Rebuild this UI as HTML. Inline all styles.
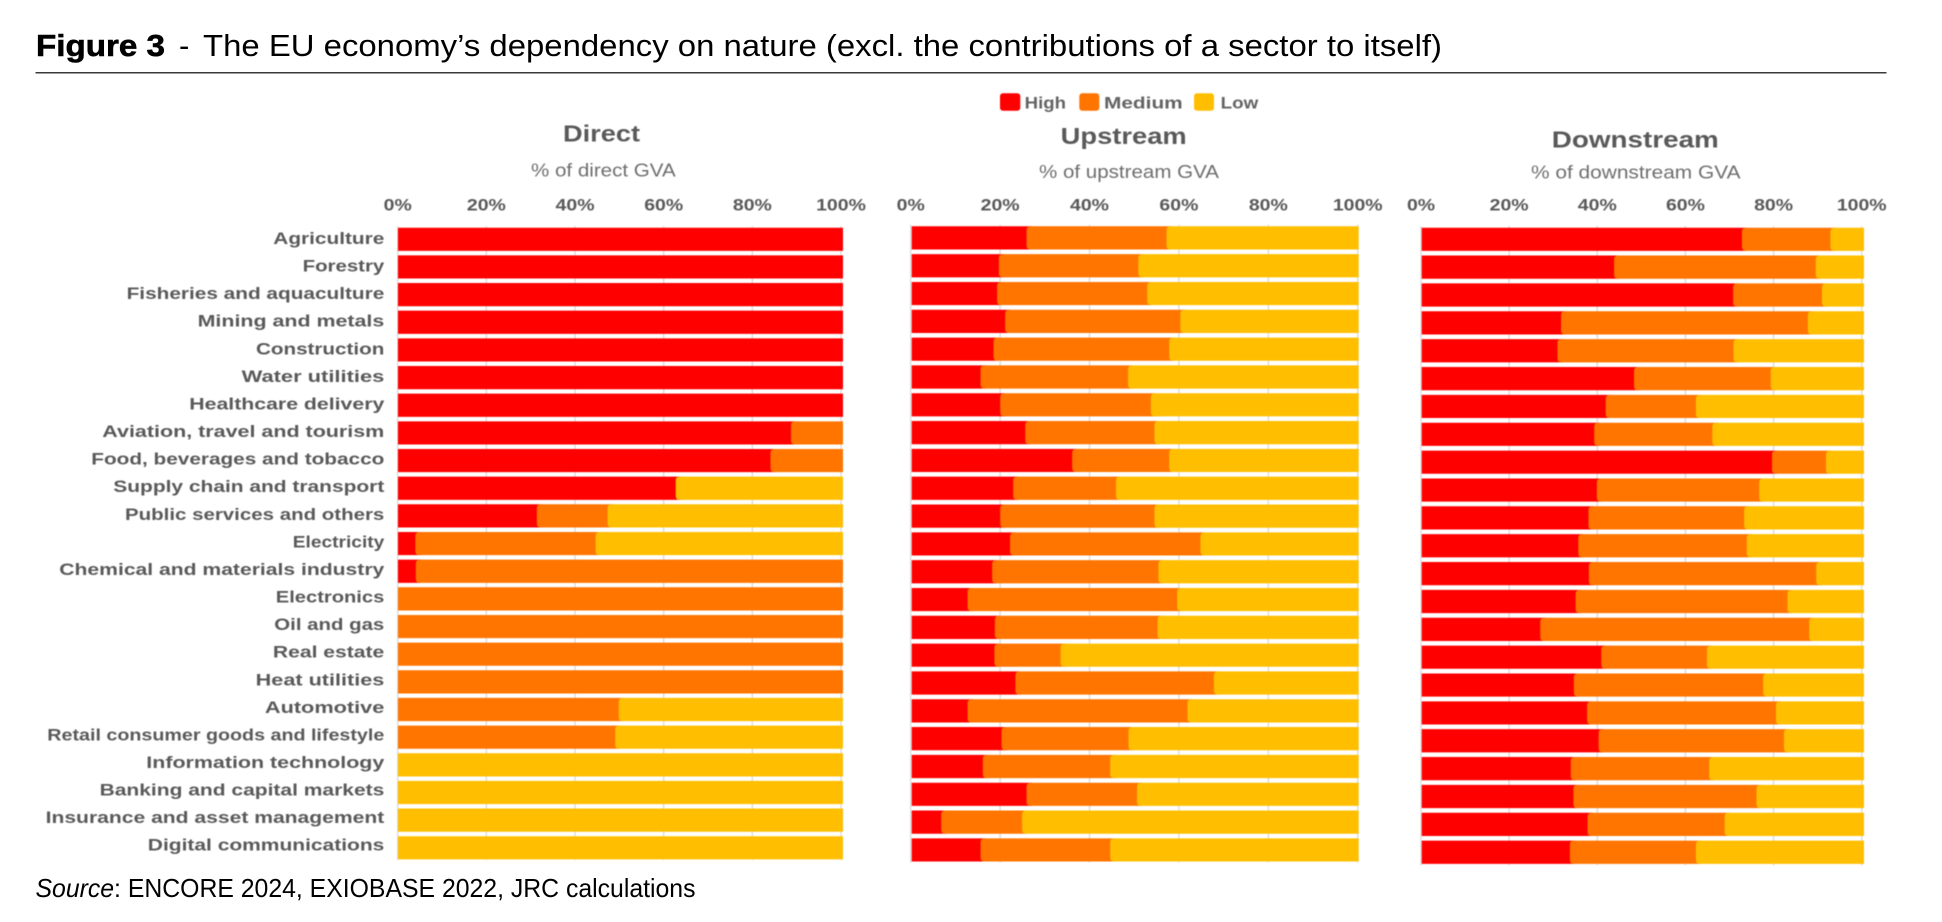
<!DOCTYPE html>
<html lang="en">
<head>
<meta charset="utf-8">
<title>The EU economy's dependency on nature</title>
<style>
html,body{margin:0;padding:0;background:#fff;width:1942px;height:922px;overflow:hidden}
svg{display:block;font-family:"Liberation Sans",Arial,sans-serif}
.soft{filter:blur(.45px)}
</style>
</head>
<body>
<svg id="figure" xmlns="http://www.w3.org/2000/svg" width="1942" height="922" viewBox="0 0 1942 922">
  <rect x="0" y="0" width="1942" height="922" fill="#fff"/>
  <text x="36" y="56" font-size="31" font-weight="bold" fill="#000" stroke="#000" stroke-width=".6" textLength="129" lengthAdjust="spacingAndGlyphs">Figure 3</text>
  <text x="179" y="56" font-size="31" fill="#000">-</text>
  <text x="203" y="56" font-size="31" fill="#000" textLength="1239" lengthAdjust="spacingAndGlyphs">The EU economy’s dependency on nature (excl. the contributions of a sector to itself)</text>
  <rect x="35.5" y="72" width="1851" height="1.5" fill="#3a3a3a"/>

  <g class="soft" font-size="17" font-weight="bold" fill="#636363">
    <rect x="1000" y="93.3" width="20.3" height="17.4" rx="3" fill="#ff0000"/>
    <text x="1024.7" y="108.7" textLength="41.3" lengthAdjust="spacingAndGlyphs">High</text>
    <rect x="1079.3" y="93.3" width="20" height="17.4" rx="3" fill="#ff7500"/>
    <text x="1104" y="108.7" textLength="78.7" lengthAdjust="spacingAndGlyphs">Medium</text>
    <rect x="1194" y="93.3" width="20" height="17.4" rx="3" fill="#ffbf00"/>
    <text x="1220.7" y="108.7" textLength="37.6" lengthAdjust="spacingAndGlyphs">Low</text>
  </g>

  <g class="soft">
    <text x="563" y="141.5" font-size="23" font-weight="bold" fill="#595959" textLength="77" lengthAdjust="spacingAndGlyphs">Direct</text>
    <text x="531" y="176.7" font-size="18" fill="#6e6e6e" textLength="144.7" lengthAdjust="spacingAndGlyphs">% of direct GVA</text>
    <text x="1060.7" y="144" font-size="23" font-weight="bold" fill="#595959" textLength="126" lengthAdjust="spacingAndGlyphs">Upstream</text>
    <text x="1039" y="178" font-size="18" fill="#6e6e6e" textLength="180" lengthAdjust="spacingAndGlyphs">% of upstream GVA</text>
    <text x="1551.8" y="147.3" font-size="23" font-weight="bold" fill="#595959" textLength="167" lengthAdjust="spacingAndGlyphs">Downstream</text>
    <text x="1531" y="178.7" font-size="18" fill="#6e6e6e" textLength="209.5" lengthAdjust="spacingAndGlyphs">% of downstream GVA</text>
  </g>

  <g class="soft" id="category-labels" font-size="16.8" font-weight="bold" fill="#595959" text-anchor="end">
    <text x="384.3" y="244" textLength="111" lengthAdjust="spacingAndGlyphs">Agriculture</text>
    <text x="384.3" y="271.6" textLength="81.7" lengthAdjust="spacingAndGlyphs">Forestry</text>
    <text x="384.3" y="299.2" textLength="257.7" lengthAdjust="spacingAndGlyphs">Fisheries and aquaculture</text>
    <text x="384.3" y="326.7" textLength="186.7" lengthAdjust="spacingAndGlyphs">Mining and metals</text>
    <text x="384.3" y="354.3" textLength="128.3" lengthAdjust="spacingAndGlyphs">Construction</text>
    <text x="384.3" y="381.9" textLength="142.7" lengthAdjust="spacingAndGlyphs">Water utilities</text>
    <text x="384.3" y="409.5" textLength="195" lengthAdjust="spacingAndGlyphs">Healthcare delivery</text>
    <text x="384.3" y="437.1" textLength="282" lengthAdjust="spacingAndGlyphs">Aviation, travel and tourism</text>
    <text x="384.3" y="464.6" textLength="293" lengthAdjust="spacingAndGlyphs">Food, beverages and tobacco</text>
    <text x="384.3" y="492.2" textLength="271" lengthAdjust="spacingAndGlyphs">Supply chain and transport</text>
    <text x="384.3" y="519.8" textLength="259.3" lengthAdjust="spacingAndGlyphs">Public services and others</text>
    <text x="384.3" y="547.4" textLength="91.5" lengthAdjust="spacingAndGlyphs">Electricity</text>
    <text x="384.3" y="575" textLength="325" lengthAdjust="spacingAndGlyphs">Chemical and materials industry</text>
    <text x="384.3" y="602.5" textLength="108.5" lengthAdjust="spacingAndGlyphs">Electronics</text>
    <text x="384.3" y="630.1" textLength="110" lengthAdjust="spacingAndGlyphs">Oil and gas</text>
    <text x="384.3" y="657.7" textLength="111.4" lengthAdjust="spacingAndGlyphs">Real estate</text>
    <text x="384.3" y="685.3" textLength="128.6" lengthAdjust="spacingAndGlyphs">Heat utilities</text>
    <text x="384.3" y="712.9" textLength="119.4" lengthAdjust="spacingAndGlyphs">Automotive</text>
    <text x="384.3" y="740.4" textLength="337" lengthAdjust="spacingAndGlyphs">Retail consumer goods and lifestyle</text>
    <text x="384.3" y="768" textLength="238" lengthAdjust="spacingAndGlyphs">Information technology</text>
    <text x="384.3" y="795.6" textLength="284.7" lengthAdjust="spacingAndGlyphs">Banking and capital markets</text>
    <text x="384.3" y="823.2" textLength="338.7" lengthAdjust="spacingAndGlyphs">Insurance and asset management</text>
    <text x="384.3" y="850.7" textLength="236.5" lengthAdjust="spacingAndGlyphs">Digital communications</text>
  </g>
  <g class="soft" id="panel-direct"></g>
  <g class="soft" id="panel-upstream"></g>
  <g class="soft" id="panel-downstream"></g>

  <text x="35.5" y="897" font-size="26" fill="#000" textLength="660" lengthAdjust="spacingAndGlyphs"><tspan font-style="italic">Source</tspan>: ENCORE 2024, EXIOBASE 2022, JRC calculations</text>
</svg>

<script>
const categories = ["Agriculture","Forestry","Fisheries and aquaculture","Mining and metals","Construction","Water utilities","Healthcare delivery","Aviation, travel and tourism","Food, beverages and tobacco","Supply chain and transport","Public services and others","Electricity","Chemical and materials industry","Electronics","Oil and gas","Real estate","Heat utilities","Automotive","Retail consumer goods and lifestyle","Information technology","Banking and capital markets","Insurance and asset management","Digital communications"];
const tickValues = [0,20,40,60,80,100];
const tickLabels = ["0%","20%","40%","60%","80%","100%"];

const directHigh = [100,100,100,100,100,100,100,88.3,83.7,62.4,31.2,3.9,4.0,0,0,0,0,0,0,0,0,0,0];
const directMedium = [0,0,0,0,0,0,0,11.7,16.3,0,15.9,40.5,96.0,100,100,100,100,49.6,48.8,0,0,0,0];
const directLow = [0,0,0,0,0,0,0,0,0,37.6,52.9,55.6,0,0,0,0,0,50.4,51.2,100,100,100,100];

const upstreamHigh = [25.7,19.5,19.1,20.9,18.3,15.4,19.8,25.4,35.9,22.7,19.8,22.0,18.0,12.5,18.6,18.5,23.2,12.5,20.1,15.9,25.7,6.6,15.4];
const upstreamMedium = [31.3,31.2,33.6,39.2,39.3,33.0,33.7,28.9,21.7,23.0,34.5,42.6,37.2,46.9,36.4,14.8,44.4,49.2,28.4,28.5,24.7,18.1,29.0];
const upstreamLow = [43.0,49.3,47.3,39.9,42.4,51.6,46.5,45.7,42.4,54.3,45.7,35.4,44.8,40.6,45.0,66.7,32.4,38.3,51.5,55.6,49.6,75.3,55.6];

const downstreamHigh = [72.4,43.5,70.4,31.5,30.7,48.0,41.6,39.0,79.2,39.6,37.7,35.4,37.8,34.8,26.8,40.6,34.4,37.4,40.0,33.7,34.3,37.5,33.5];
const downstreamMedium = [20.0,45.6,20.1,55.8,39.8,30.9,20.4,26.7,12.2,36.7,35.2,38.1,51.4,47.9,60.8,23.9,42.8,42.7,41.9,31.3,41.4,31.0,28.5];
const downstreamLow = [7.6,10.9,9.5,12.7,29.5,21.1,38.0,34.3,8.6,23.7,27.1,26.5,10.8,17.3,12.4,35.5,22.8,19.9,18.1,35.0,24.3,31.5,38.0];

const SVG_NS = "http://www.w3.org/2000/svg";
const SERIES_COLORS = ["#ff0000","#ff7500","#ffbf00"];
const SERIES_NAMES = ["high","medium","low"];
const TEXT_STRETCH = 1.18;
const CORNER = 4;
const BAR_HEIGHT = 23.2;

function makeSvg(tag, parent) {
  const el = document.createElementNS(SVG_NS, tag);
  parent.appendChild(el);
  return el;
}

function barPath(xs, xe, y, h, rounded) {
  const r = rounded ? Math.min(CORNER, (xe - xs) / 2) : 0;
  return "M" + (xs + r) + " " + y + "H" + xe + "V" + (y + h) + "H" + (xs + r) +
    (r ? "Q" + xs + " " + (y + h) + " " + xs + " " + (y + h - r) + "V" + (y + r) + "Q" + xs + " " + y + " " + (xs + r) + " " + y : "V" + y) + "Z";
}

function drawPanel(cfg) {
  const root = document.getElementById(cfg.id);
  const gridX = function (v) { return cfg.gridStart + v / 100 * cfg.gridWidth; };
  const barX = function (v) { return cfg.barStart + v / 100 * cfg.barWidth; };
  const rowY = function (i) { return cfg.top + i * cfg.pitch; };

  tickValues.forEach(function (v, k) {
    const line = makeSvg("line", root);
    
    
    line.setAttribute("x1", gridX(v));
    line.setAttribute("x2", gridX(v));
    line.setAttribute("y1", cfg.top - 1.5);
    line.setAttribute("y2", cfg.axisBottom);
    line.setAttribute("stroke", "#d9d9d9");
    line.setAttribute("stroke-width", "1.3");
    const label = makeSvg("text", root);
    
    
    label.setAttribute("transform", "translate(" + gridX(v) + ",210.5) scale(" + TEXT_STRETCH + ",1)");
    label.setAttribute("text-anchor", "middle");
    label.setAttribute("font-size", "16.5");
    label.setAttribute("font-weight", "bold");
    label.setAttribute("fill", "#595959");
    label.textContent = tickLabels[k];
  });

  categories.forEach(function (name, i) {
    const vals = [cfg.high[i], cfg.medium[i], cfg.low[i]];
    const total = vals[0] + vals[1] + vals[2];
    let cum = 0;
    let drawn = 0;
    vals.forEach(function (v, s) {
      if (v <= 0) return;
      const start = cum;
      cum += v;
      const isLast = cum >= total - 0.001;
      const xs = barX(start);
      const xe = isLast ? barX(cum) : barX(cum) + CORNER + 1;
      const seg = makeSvg("path", root);
      
      
      seg.setAttribute("data-series", SERIES_NAMES[s]);
      seg.setAttribute("data-category", name);
      seg.setAttribute("d", barPath(xs, xe, rowY(i), BAR_HEIGHT, drawn > 0));
      seg.setAttribute("fill", SERIES_COLORS[s]);
      drawn++;
    });
  });
}

drawPanel({id:"panel-direct", high:directHigh, medium:directMedium, low:directLow,
  gridStart:397.7, gridWidth:443.3, barStart:398, barWidth:445, top:227.7, pitch:27.66, axisBottom:860});
drawPanel({id:"panel-upstream", high:upstreamHigh, medium:upstreamMedium, low:upstreamLow,
  gridStart:910.7, gridWidth:447, barStart:911.7, barWidth:447, top:226.3, pitch:27.82, axisBottom:862.5});
drawPanel({id:"panel-downstream", high:downstreamHigh, medium:downstreamMedium, low:downstreamLow,
  gridStart:1421, gridWidth:440.7, barStart:1421.7, barWidth:442.3, top:227.7, pitch:27.86, axisBottom:865.5});
</script>
</body>
</html>
